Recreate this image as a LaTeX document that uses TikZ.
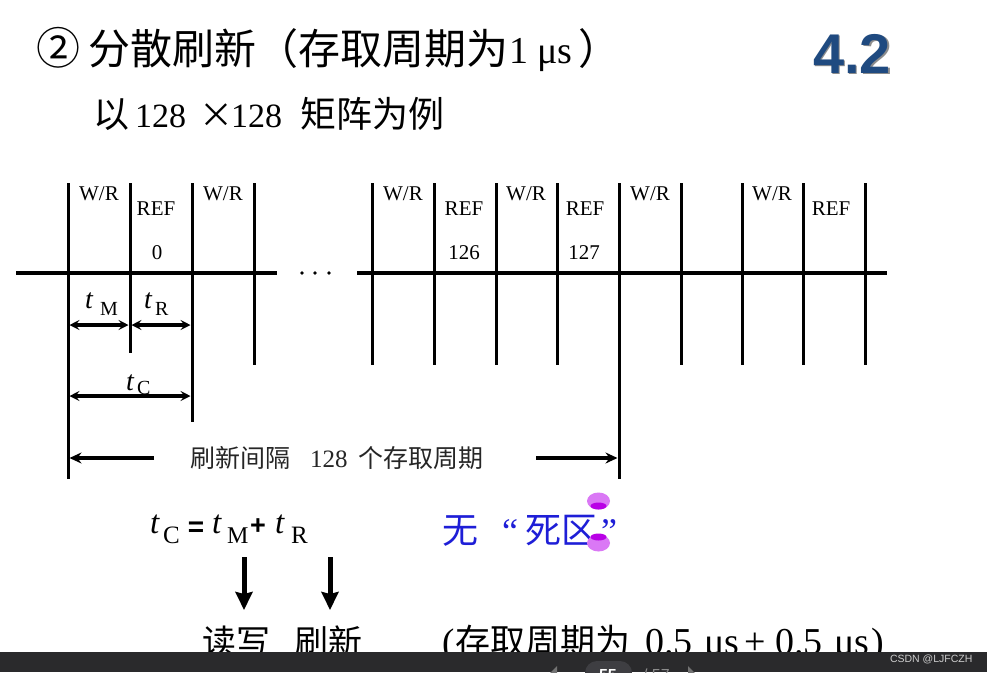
\documentclass[tikz,border=0pt]{standalone}
\usepackage{fontspec}
\setmainfont{Liberation Serif}
\newfontfamily\cjk{Noto Sans CJK SC}
\newfontfamily\sansf{Liberation Sans}
\usetikzlibrary{arrows.meta}
\definecolor{titleblue}{RGB}{31,74,128}
\definecolor{deadblue}{RGB}{30,30,215}
\definecolor{barbg}{RGB}{42,42,44}
\definecolor{pillbg}{RGB}{62,62,66}
\definecolor{handlelight}{RGB}{218,120,245}
\definecolor{handledark}{RGB}{185,0,230}
\newcommand\fsz[1]{\fontsize{#1}{#1}\selectfont}
\begin{document}
\begin{tikzpicture}[x=1pt,y=-1pt,
  txt/.style={inner sep=0pt, outer sep=0pt, anchor=base west},
  lab/.style={inner sep=0pt, outer sep=0pt, anchor=base, font=\fsz{21}},
  tickline/.style={line width=3pt},
  axisline/.style={line width=4pt},
  dimtip/.tip={Stealth[length=10pt,width=10pt,inset=4pt]},
  gaptip/.tip={Stealth[length=12pt,width=11pt,inset=4pt]},
  dimarrow/.style={line width=3.2pt, dimtip-dimtip, shorten <=1.5pt, shorten >=1.5pt},
  gaparrow/.style={line width=3.4pt, -gaptip, shorten >=1.5pt},
  downarrow/.style={line width=5pt, -{Stealth[length=18pt,width=17pt,inset=2pt]}},
  dotnode/.style={circle, fill=black, inner sep=0pt, minimum size=3.6pt},
]
\useasboundingbox (0,0) rectangle (987,672);
\clip (0,0) rectangle (987,672);
\fill[white] (0,0) rectangle (987,672);

% ---------- title ----------
\node[txt] (circ) at (36,64) {\cjk\fsz{44}②};
\node[txt] (title) at (88,64) {\cjk\fsz{42}分散刷新（存取周期为};
\node[txt] (tunit) at (509,63) {\fsz{38}1 μs};
\node[txt] (tparen) at (578,64) {\cjk\fsz{42}）};
\node[txt, text=black!45] (secshadow) at (814.5,74.5) {\sansf\bfseries\fsz{56}4.2};
\node[txt, text=titleblue] (sec) at (813,73) {\sansf\bfseries\fsz{56}4.2};

% ---------- subtitle ----------
\node[txt] (sub1) at (93,127) {\cjk\fsz{36}以};
\node[txt] (sub2) at (135,127) {\fsz{34}128};
\node[txt] (sub3) at (199,127) {\cjk\fsz{34}×};
\node[txt] (sub4) at (231,127) {\fsz{34}128};
\node[txt] (sub5) at (300,127) {\cjk\fsz{36}矩阵为例};

% ---------- timeline ----------
\foreach \i/\x/\b in {1/68/479, 2/130/353, 3/192/422, 4/254/365, 5/372/365,
  6/434/365, 7/496/365, 8/557/365, 9/619/479, 10/681/365, 11/742/365,
  12/803/365, 13/865/365}{
  \coordinate (vt\i) at (\x,183);
  \coordinate (vb\i) at (\x,\b);
  \draw[tickline] (vt\i) -- (vb\i);
}
\coordinate (axA) at (16,273);
\coordinate (axB) at (277,273);
\coordinate (axC) at (357,273);
\coordinate (axD) at (887,273);
\draw[axisline] (axA) -- (axB);
\draw[axisline] (axC) -- (axD);
\foreach \i/\x in {1/302,2/315,3/329}{
  \node[dotnode] (dot\i) at (\x,273) {};
}

\foreach \i/\x in {1/99,2/223,3/403,4/526,5/650,6/772}{
  \node[lab] (wr\i) at (\x,200) {W/R};
}
\foreach \i/\x in {1/156,2/464,3/585,4/831}{
  \node[lab] (ref\i) at (\x,215) {REF};
}
\node[lab] (n0) at (157,259) {0};
\node[lab] (n126) at (464,259) {126};
\node[lab] (n127) at (584,259) {127};

% ---------- dimensions ----------
\coordinate (dm1) at (68,325);
\coordinate (dm2) at (130,325);
\coordinate (dm3) at (192,325);
\draw[dimarrow] (dm1) -- (dm2);
\draw[dimarrow] (dm2) -- (dm3);
\coordinate (dc1) at (68,396);
\coordinate (dc2) at (192,396);
\draw[dimarrow] (dc1) -- (dc2);

\node[txt] (tmt) at (85,308) {\fsz{28}\itshape t};
\node[txt] (tms) at (100,315) {\fsz{20}M};
\node[txt] (trt) at (144,308) {\fsz{28}\itshape t};
\node[txt] (trs) at (155,315) {\fsz{20}R};
\node[txt] (tct) at (126,390) {\fsz{28}\itshape t};
\node[txt] (tcs) at (137,394) {\fsz{20}C};

% ---------- refresh interval ----------
\coordinate (ia1) at (68,458);
\coordinate (ia2) at (154,458);
\coordinate (ia3) at (536,458);
\coordinate (ia4) at (619,458);
\draw[gaparrow] (ia2) -- (ia1);
\draw[gaparrow] (ia3) -- (ia4);
\node[txt, text=black!85] (iv1) at (190,467) {\cjk\fsz{25}刷新间隔};
\node[txt, text=black!85] (iv2) at (310,467) {\fsz{25}128};
\node[txt, text=black!85] (iv3) at (358,467) {\cjk\fsz{25}个存取周期};

% ---------- equation ----------
\node[txt] (e1) at (150,533) {\fsz{33}\itshape t};
\node[txt] (e1s) at (163,543) {\fsz{25}C};
\node[inner sep=0pt] (eq) at (196,529) {\sansf\bfseries\fsz{28}=};
\node[txt] (e2) at (212,533) {\fsz{33}\itshape t};
\node[txt] (e2s) at (227,543) {\fsz{24}M};
\node[inner sep=0pt] (pl) at (258,527) {\sansf\bfseries\fsz{27}+};
\node[txt] (e3) at (275,533) {\fsz{33}\itshape t};
\node[txt] (e3s) at (291,543) {\fsz{25}R};

\coordinate (da1) at (244,557);
\coordinate (da2) at (244,610);
\coordinate (db1) at (330,557);
\coordinate (db2) at (330,610);
\draw[downarrow] (da1) -- (da2);
\draw[downarrow] (db1) -- (db2);

% ---------- no dead zone ----------
\node[txt, text=deadblue] (wu) at (442,543) {\cjk\fsz{36}无};
\node[txt, text=deadblue] (q1) at (502,543) {\fsz{36}“};
\node[txt, text=deadblue] (sq) at (525,543) {\cjk\fsz{36}死区};
\node[txt, text=deadblue] (q2) at (601,543) {\fsz{36}”};

% selection handles
\fill[handlelight] (598.5,501) ellipse [x radius=11.5, y radius=8.5];
\fill[handledark] (598.5,506) ellipse [x radius=8, y radius=3.5];
\fill[handlelight] (598.5,543) ellipse [x radius=11.5, y radius=8.5];
\fill[handledark] (598.5,537) ellipse [x radius=8, y radius=3.5];

% ---------- bottom texts ----------
\node[txt] (rw) at (202,654) {\cjk\fsz{34}读写};
\node[txt] (rf) at (294,654) {\cjk\fsz{34}刷新};
\node[txt] (p1) at (442,654) {\fsz{37}(};
\node[txt] (p2) at (455,654) {\cjk\fsz{35}存取周期为};
\node[txt] (p3) at (645,654) {\fsz{38}0.5};
\node[txt] (p4) at (704,654) {\fsz{38}μs};
\node[txt] (p5) at (744,654) {\fsz{38}+};
\node[txt] (p6) at (775,654) {\fsz{38}0.5};
\node[txt] (p7) at (834,654) {\fsz{38}μs};
\node[txt] (p8) at (871,654) {\fsz{38})};

% ---------- viewer bar ----------
\fill[barbg] (0,652) rectangle (987,672);
\fill[pillbg, rounded corners=12pt] (585,661) rectangle (632,700);
\node[txt, text=white] (pg) at (599,680) {\sansf\bfseries\fsz{16}55};
\node[txt, text=black!45] (pgt) at (643,680) {\sansf\fsz{16}/ 57};
\fill[black!55] (557,666) -- (546,677) -- (557,688) -- cycle;
\fill[black!55] (688,666) -- (699,677) -- (688,688) -- cycle;
\node[txt, text=black!20] (wm) at (890,662) {\sansf\fsz{10.5}CSDN @LJFCZH};
\end{tikzpicture}
\end{document}
